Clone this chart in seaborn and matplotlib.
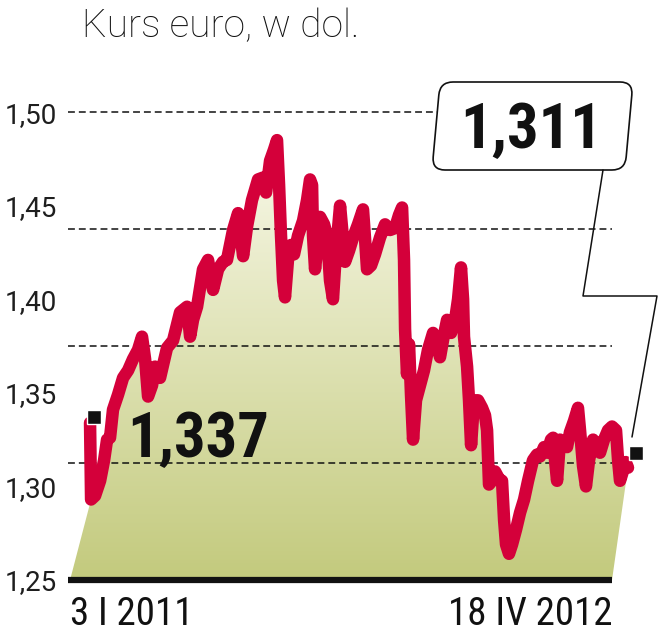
import numpy as np
import pandas as pd
import matplotlib.pyplot as plt
import matplotlib.patches as mpatches
from matplotlib.lines import Line2D
from matplotlib.transforms import Affine2D
import seaborn as sns

sns.set_theme(style="white")
plt.rcParams['font.family'] = ['Roboto', 'DejaVu Sans']

# dane (dni od 3 I 2011, kurs EUR/USD)
tytul = "Kurs euro, w dol."
etykiety_x = ["3 I 2011", "18 IV 2012"]
poziomy_y = [1.25, 1.30, 1.35, 1.40, 1.45, 1.50]
etykiety_y = ["1,25", "1,30", "1,35", "1,40", "1,45", "1,50"]
siatka = [1.3125, 1.375, 1.4375, 1.50]
kurs_start = 1.337
kurs_koniec = 1.311

dni = [0, 0.9, 4.4, 8.8, 12.3, 14.9, 17.5, 20.1, 24.5, 28.9, 33.3, 37.6, 42.0,
       45.5, 48.2, 50.8, 54.3, 56.9, 61.3, 67.4, 72.7, 78.8, 84.9, 87.6, 90.2,
       93.7, 98.9, 103.3, 107.7, 112.1, 116.4, 119.9, 125.2, 129.6, 134.0,
       137.5, 141.8, 147.1, 151.5, 154.1, 157.6, 161.1, 163.7,
       165.5, 167.2, 169.0, 170.7, 173.3, 176.0, 178.6, 182.1, 186.5, 190.0,
       192.6, 194.4, 195.2, 197.0, 199.6, 201.4, 204.9, 207.5, 210.1, 212.7,
       215.4, 218.9, 221.5, 223.3, 226.8, 230.3, 234.6, 239.0, 240.8, 242.5,
       246.0, 249.5, 253.9, 258.3, 262.7, 267.0, 270.5, 273.2,
       274.9, 275.8, 277.5, 279.3, 281.0, 282.8, 285.4, 288.9, 292.4, 295.9,
       300.3, 303.8, 306.4, 309.9, 312.6, 316.1, 319.6, 322.2, 324.8, 326.6,
       327.4, 330.1, 331.8, 333.6, 336.2, 339.7, 343.2, 345.8, 347.6, 349.3,
       351.9, 354.6, 358.1, 360.7, 362.5, 364.2, 366.8, 369.5, 373.0, 376.5,
       380.0, 383.5, 387.8, 391.3, 394.0, 397.5, 400.1, 403.6, 405.4, 407.1,
       408.9, 411.5, 415.0, 417.6, 420.2, 423.7, 427.2, 429.0, 431.6, 434.2,
       436.9, 440.4, 443.9, 446.5, 450.0, 453.5, 457.0, 460.5, 462.3, 464.0,
       467.0, 469.0, 471.0]
kurs = [1.334, 1.293, 1.295, 1.303, 1.314, 1.325, 1.326, 1.341, 1.349, 1.358,
        1.362, 1.368, 1.373, 1.380, 1.368, 1.348, 1.354, 1.364, 1.358, 1.374,
        1.378, 1.393, 1.396, 1.380, 1.389, 1.396, 1.416, 1.421, 1.405, 1.416,
        1.420, 1.421, 1.437, 1.446, 1.423, 1.439, 1.453, 1.464, 1.465, 1.457,
        1.474, 1.480, 1.485,
        1.461, 1.434, 1.410, 1.401, 1.421, 1.429, 1.424, 1.434, 1.442, 1.453,
        1.464, 1.461, 1.434, 1.416, 1.432, 1.444, 1.440, 1.434, 1.410, 1.400,
        1.426, 1.450, 1.432, 1.420, 1.426, 1.433, 1.440, 1.448, 1.432, 1.416,
        1.418, 1.424, 1.433, 1.440, 1.437, 1.438, 1.445, 1.449,
        1.421, 1.384, 1.360, 1.376, 1.349, 1.325, 1.346, 1.354, 1.362, 1.373,
        1.382, 1.376, 1.369, 1.381, 1.389, 1.382, 1.389, 1.400, 1.417, 1.400,
        1.380, 1.364, 1.346, 1.322, 1.346, 1.346, 1.342, 1.338, 1.330, 1.301,
        1.303, 1.308, 1.304, 1.303, 1.282, 1.269, 1.264, 1.269, 1.277, 1.286,
        1.293, 1.303, 1.314, 1.317, 1.316, 1.321, 1.318, 1.325, 1.326, 1.314,
        1.303, 1.325, 1.322, 1.321, 1.329, 1.335, 1.342, 1.330, 1.311, 1.300,
        1.314, 1.325, 1.322, 1.318, 1.325, 1.330, 1.332, 1.330, 1.314, 1.303,
        1.309, 1.313, 1.310]

df = pd.DataFrame({'dzien': dni, 'kurs': kurs})

CZERWONY = '#d4003a'
W, H = 658, 640
waski = ['Roboto Condensed', 'Barlow Condensed', 'Fira Sans Condensed',
         'Archivo Narrow', 'PT Sans Narrow', 'DejaVu Sans']

fig = plt.figure(figsize=(W / 100, H / 100), dpi=100)
ax = fig.add_axes([68 / W, 60 / H, 572 / W, 505 / H])
ax.set_xlim(-19.3, 481.5)
ax.set_ylim(1.25, 1.5198)
for s in ax.spines.values():
    s.set_visible(False)

# piksele liczone od lewego górnego rogu
pix = Affine2D().scale(1, -1).translate(0, H)

# skośne wypełnienie z gradientem (od dołka po pierwszym notowaniu)
skos_l, skos_p = 18.4, 14
wierz = list(zip(dni[1:], kurs[1:])) + [(dni[-1] - skos_p, 1.25), (dni[1] - skos_l, 1.25)]
poly = mpatches.Polygon(wierz, closed=True, facecolor='none', edgecolor='none')
ax.add_patch(poly)
gora = np.array([250, 250, 236]) / 255
dol = np.array([195, 202, 125]) / 255
t = np.linspace(0, 1, 256)[:, None]
grad = (gora * (1 - t) + dol * t)[:, None, :]
img = ax.imshow(grad, extent=[-25, 480, 1.25, 1.49], aspect='auto',
                origin='upper', zorder=1, interpolation='bilinear')
img.set_clip_path(poly)

# linie przerywane
for y in siatka:
    xmax = 0.645 if y == siatka[-1] else 0.951
    ax.axhline(y, 0, xmax, color='#111111', lw=1.1, ls=(0, (4.5, 2.6)), zorder=2)
ax.axhline(1.25, 0, 0.951, color='#111111', lw=4.5, solid_capstyle='butt',
           zorder=4, clip_on=False)

sns.lineplot(data=df, x='dzien', y='kurs', color=CZERWONY, linewidth=9,
             estimator=None, ax=ax, zorder=3)
ax.lines[-1].set_solid_joinstyle('round')
ax.lines[-1].set_solid_capstyle('round')
ax.set_xlabel('')
ax.set_ylabel('')

# znaczniki początku i końca
ax.plot([dni[0] + 3.5], [kurs_start], marker='s', ms=10, color='#111111',
        mec='white', mew=1.0, zorder=5, clip_on=False)
ax.plot([dni[-1] + 7], [kurs_koniec + 0.007], marker='s', ms=10,
        color='#111111', mec='white', mew=1.0, zorder=5, clip_on=False)

# osie
ax.set_yticks(poziomy_y, etykiety_y)
ax.set_xticks([])
ax.tick_params(axis='y', length=0, pad=8, labelsize=20, labelcolor='#1e1e1e')

xt = ax.get_xaxis_transform()
ax.text(dni[1] - skos_l, -0.089, etykiety_x[0], transform=xt, ha='left',
        va='baseline', fontsize=28, family=waski, color='#111111')
ax.text(dni[-1] - skos_p, -0.089, etykiety_x[1], transform=xt, ha='right',
        va='baseline', fontsize=28, family=waski, color='#111111')

# tytuł
fig.text(82, 37, tytul, transform=pix, ha='left', va='baseline',
         fontsize=28, fontweight='light', color='#111111')

# wartość początkowa
ax.text(127, 457, f"{kurs_start:.3f}".replace('.', ','), transform=pix,
        ha='left', va='baseline', fontsize=45, fontweight='black',
        family=waski, color='#111111', zorder=6)

# ramka z wartością końcową
ramka = mpatches.FancyBboxPatch((0, 0), 193, 88,
                                boxstyle='round,pad=0,rounding_size=13',
                                facecolor='white', edgecolor='#111111', lw=1.2,
                                transform=Affine2D().skew_deg(5.2, 0).translate(432, H - 170))
fig.add_artist(ramka)
fig.add_artist(Line2D([603, 583, 657, 632], [170, 296, 296, 437],
                      color='#111111', lw=1.1, transform=pix))
fig.text(531, 148, f"{kurs_koniec:.3f}".replace('.', ','), transform=pix,
         ha='center', va='baseline', fontsize=45, fontweight='black',
         family=waski, color='#111111')

fig.savefig('out.png', dpi=100)
